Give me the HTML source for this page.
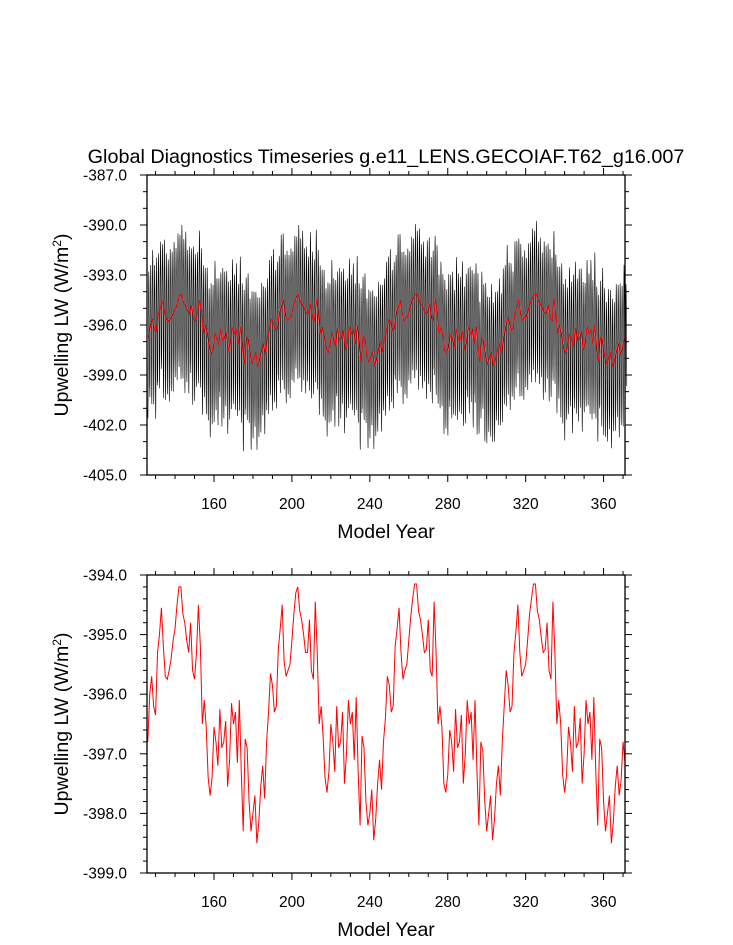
<!DOCTYPE html>
<html><head><meta charset="utf-8">
<style>
html,body{margin:0;padding:0;background:#fff;}
svg{display:block;font-family:"Liberation Sans",Arial,sans-serif;}
</style></head>
<body>
<svg id="chart" width="733" height="945" viewBox="0 0 733 945" xmlns="http://www.w3.org/2000/svg">
<text x="386" y="163" font-size="19.8" text-anchor="middle">Global Diagnostics Timeseries g.e11_LENS.GECOIAF.T62_g16.007</text>
<g id="top"></g>
<g id="bot"></g>
</svg>
<script>
// Annual-mean upwelling LW, one array per forcing cycle (years 126-187, 188-249, 250-311, 312-371)
const cycle1 = [-396.8,-396.0,-395.7,-396.2,-396.35,-395.3,-395.0,-394.55,-395.2,-395.7,-395.75,-395.6,-395.4,-395.1,-394.9,-394.5,-394.2,-394.2,-394.65,-394.8,-395.1,-395.3,-394.8,-395.6,-395.75,-395.3,-394.5,-395.2,-396.5,-396.1,-396.55,-397.4,-397.7,-397.4,-396.55,-396.8,-397.2,-396.25,-396.9,-396.8,-396.45,-397.55,-397.1,-396.15,-396.5,-396.3,-397.15,-396.1,-397.3,-398.3,-396.75,-396.9,-397.8,-398.3,-398.0,-397.7,-398.5,-398.15,-397.55,-397.2,-397.75,-396.8];
const cycle2 = [-396.3,-395.65,-395.85,-396.3,-396.2,-395.25,-394.9,-394.5,-395.45,-395.7,-395.6,-395.5,-395.1,-394.65,-394.3,-394.2,-394.6,-394.75,-395.0,-395.3,-395.3,-394.75,-395.6,-395.75,-394.45,-395.3,-396.5,-396.2,-396.7,-397.4,-397.65,-397.3,-396.5,-396.8,-397.3,-396.2,-396.9,-396.8,-396.3,-397.5,-397.0,-396.1,-396.5,-396.3,-397.1,-396.05,-397.3,-398.2,-396.7,-396.9,-397.8,-398.2,-398.0,-397.6,-398.45,-398.1,-397.5,-397.1,-397.6,-396.8,-396.4,-395.7];
const cycle3 = [-395.85,-396.3,-396.2,-395.2,-394.9,-394.55,-395.3,-395.75,-395.6,-395.5,-395.1,-394.7,-394.4,-394.15,-394.15,-394.6,-394.75,-395.0,-395.3,-395.25,-394.75,-395.6,-395.7,-394.45,-395.3,-396.5,-396.2,-396.55,-397.5,-397.65,-397.35,-396.6,-396.8,-397.3,-396.25,-396.9,-396.8,-396.35,-397.5,-397.0,-396.1,-396.5,-396.3,-397.1,-396.1,-397.3,-398.2,-396.8,-396.95,-397.8,-398.3,-398.0,-397.7,-398.45,-398.1,-397.5,-397.2,-397.7,-396.8,-396.2,-395.6,-395.85];
const cycle4 = [-396.3,-396.2,-395.3,-394.95,-394.5,-395.3,-395.7,-395.6,-395.5,-395.1,-394.65,-394.4,-394.15,-394.15,-394.6,-394.75,-395.05,-395.3,-395.25,-394.8,-395.6,-395.75,-394.45,-395.3,-396.5,-396.1,-396.5,-397.35,-397.65,-397.35,-396.55,-396.8,-397.3,-396.2,-396.9,-396.8,-396.4,-397.5,-397.0,-396.1,-396.5,-396.3,-397.1,-396.05,-397.3,-398.2,-396.75,-396.9,-397.8,-398.3,-398.0,-397.7,-398.5,-398.15,-397.55,-397.2,-397.7,-397.45,-396.8,-397.15];
const startYear = 126;
// Monthly seasonal anomaly (W/m2) added to annual means for the monthly series
const seasonal = [-4.3,-4.8,-3.4,-0.6,1.8,3.2,4.0,3.6,2.4,1.3,-0.5,-2.8];
// Year-to-year modulation of seasonal amplitude (estimated)
const ampMod = [1.0,0.9,1.05,0.95,1.1,0.9,1.0,0.85,1.08,1.0,0.92,1.04,0.95,1.02,0.88];
const xTicks = [160,200,240,280,320,360];
const topYTicks = [-387,-390,-393,-396,-399,-402,-405];
const botYTicks = [-394,-395,-396,-397,-398,-399];

const annual = cycle1.concat(cycle2, cycle3, cycle4);
const NS = "http://www.w3.org/2000/svg";
const X0 = 147, X1 = 625, XMIN = 125.6, XMAX = 371;
function xs(v){ return X0 + (v - XMIN) / (XMAX - XMIN) * (X1 - X0); }
function mk(tag, attrs, parent){ const e = document.createElementNS(NS, tag); for (const k in attrs) e.setAttribute(k, attrs[k]); parent.appendChild(e); return e; }

function panel(g, yTop, yBot, vMax, vMin, yTicks, minorStep, showMonthly, pfx){
  const ys = v => yTop + (vMax - v) / (vMax - vMin) * (yBot - yTop);
  if (showMonthly){
    let d = "";
    for (let i = 0; i < annual.length; i++){
      const a = ampMod[i % ampMod.length];
      for (let m = 0; m < 12; m++){
        const t = startYear + i + m / 12;
        const v = annual[i] + seasonal[m] * a;
        d += (d ? "L" : "M") + xs(t).toFixed(2) + " " + ys(v).toFixed(2);
      }
    }
    const ml = mk("path", {d: d, fill: "none", stroke: "#000", "stroke-width": "0.6"}, g);
    
    
  }
  let d2 = "";
  for (let i = 0; i < annual.length; i++){
    d2 += (d2 ? "L" : "M") + xs(startYear + i + (showMonthly ? 0.5 : 0)).toFixed(2) + " " + ys(annual[i]).toFixed(2);
  }
  const al = mk("path", {d: d2, fill: "none", stroke: "#ff0000", "stroke-width": "1"}, g);
  
  
  const fr = mk("rect", {x: X0, y: yTop, width: X1 - X0, height: yBot - yTop, fill: "none", stroke: "#000", "stroke-width": "1.3"}, g);
  
  
  for (let yr = 130; yr <= 370; yr += 10){
    const x = xs(yr), major = xTicks.indexOf(yr) >= 0, L = major ? 7 : 4;
    mk("line", {x1: x, x2: x, y1: yBot, y2: yBot + L, stroke: "#000", "stroke-width": 1}, g);
    mk("line", {x1: x, x2: x, y1: yTop, y2: yTop - L, stroke: "#000", "stroke-width": 1}, g);
  }
  xTicks.forEach(v => {
    const t = mk("text", {x: xs(v), y: yBot + 34, "font-size": 15.5, "text-anchor": "middle"}, g);
    t.textContent = v;
    
    
  });
  const n = Math.round((vMax - vMin) / minorStep);
  for (let k = 0; k <= n; k++){
    const v = vMax - k * minorStep;
    const major = yTicks.some(t => Math.abs(t - v) < 1e-6), L = major ? 7 : 4, y = ys(v);
    mk("line", {x1: X0, x2: X0 - L, y1: y, y2: y, stroke: "#000", "stroke-width": 1}, g);
    mk("line", {x1: X1, x2: X1 + L, y1: y, y2: y, stroke: "#000", "stroke-width": 1}, g);
  }
  yTicks.forEach(v => {
    const t = mk("text", {x: X0 - 20, y: ys(v) + 5.5, "font-size": 15.5, "text-anchor": "end"}, g);
    t.textContent = v.toFixed(1);
    
    
  });
  const xt = mk("text", {x: (X0 + X1) / 2, y: yBot + 63, "font-size": 19.5, "text-anchor": "middle"}, g);
  xt.textContent = "Model Year";
  
  
  const cy = (yTop + yBot) / 2;
  const yt = mk("text", {x: 68, y: cy, "font-size": 19.5, "text-anchor": "middle", transform: "rotate(-90 68 " + cy + ")"}, g);
  yt.innerHTML = 'Upwelling LW (W/m<tspan dy="-7" font-size="12">2</tspan><tspan dy="7">)</tspan>';
  
  
}
panel(document.getElementById("top"), 175, 475, -387, -405, topYTicks, 1, true, "top");
panel(document.getElementById("bot"), 575, 873, -394, -399, botYTicks, 0.2, false, "bottom");
</script>
</body></html>
